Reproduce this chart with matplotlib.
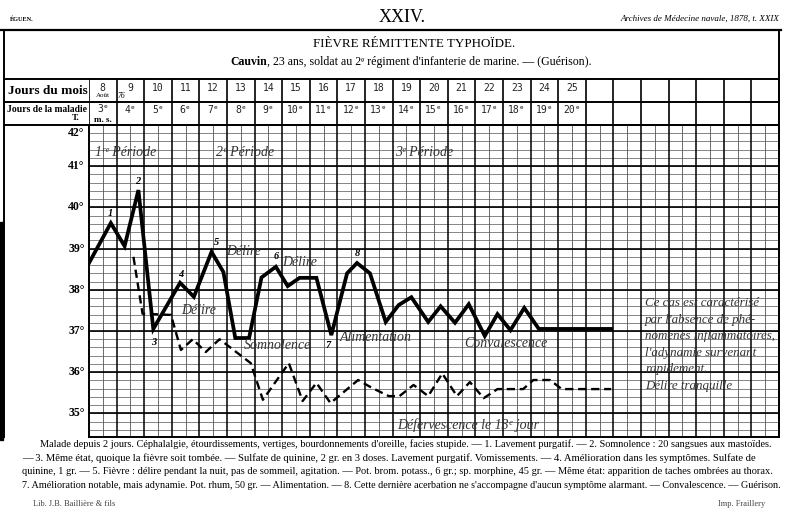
import numpy as np
import matplotlib
matplotlib.use("Agg")
import matplotlib.pyplot as plt
from matplotlib.patches import Rectangle

SERIF = ["Liberation Serif", "DejaVu Serif"]
MONO = ["DejaVu Sans Mono", "DejaVu Sans"]

# en-tete du tableau : jours du mois (aout 1876) et jours de la maladie
jours_mois = ["8", "9", "10", "11", "12", "13", "14", "15", "16", "17",
              "18", "19", "20", "21", "22", "23", "24", "25"]
jours_maladie = ["3ᵉ", "4ᵉ", "5ᵉ", "6ᵉ", "7ᵉ", "8ᵉ", "9ᵉ", "10ᵉ", "11ᵉ", "12ᵉ",
                 "13ᵉ", "14ᵉ", "15ᵉ", "16ᵉ", "17ᵉ", "18ᵉ", "19ᵉ", "20ᵉ"]
degres = [42, 41, 40, 39, 38, 37, 36, 35]

# courbe pleine (temperature), abscisse en jours depuis le 8 aout
temp_x = [0.0, 0.79, 1.29, 1.79, 2.33, 3.3, 3.8, 4.44, 4.87, 5.3, 5.8, 6.25,
          6.77, 7.2, 7.63, 8.24, 8.78, 9.35, 9.71, 10.18, 10.75, 11.22, 11.68,
          12.29, 12.74, 13.26, 13.76, 14.34, 14.8, 15.27, 15.77, 16.3, 18.92]
temp_y = [38.65, 39.62, 39.06, 40.42, 37.05, 38.17, 37.83, 38.92, 38.43, 36.83,
          36.83, 38.3, 38.56, 38.09, 38.29, 38.29, 36.9, 38.4, 38.65, 38.4,
          37.22, 37.63, 37.82, 37.22, 37.6, 37.2, 37.65, 36.88, 37.41, 37.02,
          37.56, 37.05, 37.05]

# courbe pointillee
pointille_x = [1.61, 1.94, 2.97, 3.33, 3.76, 4.23, 4.73, 5.86, 6.3, 7.24, 7.74,
               8.24, 8.75, 9.75, 10.25, 10.86, 11.25, 11.76, 12.29, 12.8, 13.33,
               13.8, 14.3, 14.8, 15.73, 16.1, 16.7, 17.13, 18.92]
pointille_y = [38.8, 37.42, 37.39, 36.54, 36.8, 36.49, 36.8, 36.22, 35.33, 36.22,
               35.3, 35.74, 35.25, 35.81, 35.62, 35.42, 35.42, 35.69, 35.42,
               35.97, 35.42, 35.76, 35.37, 35.59, 35.59, 35.81, 35.81, 35.59,
               35.59]

# numeros des notes et mentions sur la courbe
numeros = ["1", "2", "3", "4", "5", "6", "7", "8"]
numeros_x = [0.79, 1.76, 2.33, 3.33, 4.62, 6.77, 8.67, 9.71]
numeros_y = [39.86, 40.64, 36.73, 38.36, 39.16, 38.8, 36.66, 38.87]

mentions = ["1ʳᵉ Période", "2ᵉ Période", "3ᵉ Période", "Délire", "Délire", "Délire",
            "Somnolence", "Alimentation", "Convalescence", "Défervescence le 13ᵉ jour"]
mentions_x = [0.22, 4.6, 11.1, 4.98, 6.99, 3.33, 5.6, 9.1, 13.58, 11.15]
mentions_y = [41.34, 41.34, 41.34, 38.92, 38.67, 37.5, 36.66, 36.85, 36.7, 34.72]

note_droite = ["Ce cas est caractérisé", "par l'absence de phé-",
               "nomènes inflammatoires,", "l'adynamie survenant",
               "rapidement.", "Délire tranquille"]

legende = [
    "Malade depuis 2 jours. Céphalalgie, étourdissements, vertiges, bourdonnements d'oreille, facies stupide. — 1. Lavement purgatif. — 2. Somnolence : 20 sangsues aux mastoïdes.",
    "— 3. Même état, quoique la fièvre soit tombée. — Sulfate de quinine, 2 gr. en 3 doses. Lavement purgatif. Vomissements. — 4. Amélioration dans les symptômes. Sulfate de",
    "quinine, 1 gr. — 5. Fièvre : délire pendant la nuit, pas de sommeil, agitation. — Pot. brom. potass., 6 gr.; sp. morphine, 45 gr. — Même état: apparition de taches ombrées au thorax.",
    "7. Amélioration notable, mais adynamie. Pot. rhum, 50 gr. — Alimentation. — 8. Cette dernière acerbation ne s'accompagne d'aucun symptôme alarmant. — Convalescence. — Guérison.",
]


fig = plt.figure(figsize=(8, 5.13), dpi=100)
renderer = fig.canvas.get_renderer()

# page entiere en pixels
pg = fig.add_axes([0, 0, 1, 1])
pg.set_xlim(0, 800)
pg.set_ylim(513, 0)
pg.axis("off")


def texte_ajuste(x0, x1, y, s, taille, **kw):
    t = pg.text(x0, y, s, fontsize=taille, ha="left", va="center", **kw)
    for _ in range(3):
        w = t.get_window_extent(renderer).width
        t.set_fontsize(t.get_fontsize() * (x1 - x0) / w)
    return t


# haut de page
pg.text(10, 19, "ÉGUEN.", fontsize=4.5, fontweight="bold", family=SERIF, va="center")
pg.text(402, 18, "XXIV.", fontsize=13, family=SERIF, ha="center", va="center")
texte_ajuste(620, 778, 19, "Archives de Médecine navale, 1878, t. XXIX", 6,
             family=SERIF, style="italic")
texte_ajuste(313, 514, 44, "FIÈVRE RÉMITTENTE TYPHOÏDE.", 8, family=SERIF)
t = pg.text(230, 62, "Cauvin", fontsize=8.5, family=SERIF, fontweight="bold",
            ha="left", va="center")
x_fin = t.get_window_extent(renderer).x1
texte_ajuste(x_fin, 592, 62,
             ", 23 ans, soldat au 2ᵉ régiment d'infanterie de marine. — (Guérison).",
             8.5, family=SERIF)

# cadre
pg.plot([0, 781], [30, 30], color="black", lw=1.6)
pg.plot([4, 4], [30, 437], color="black", lw=1.4)
pg.plot([779, 779], [30, 437], color="black", lw=1.4)
for y in [79, 102, 125]:
    pg.plot([4, 779], [y, y], color="black", lw=1.4)
pg.add_patch(Rectangle((0, 222), 3, 218, color="black"))

texte_ajuste(8, 87, 91, "Jours du mois", 10, family=SERIF, fontweight="bold")
texte_ajuste(7, 87, 110, "Jours de la maladie", 8, family=SERIF, fontweight="bold")
pg.text(76, 118.5, "T.", fontsize=6.5, family=SERIF, fontweight="bold", ha="center", va="center")

# en-tete du tableau
hd = fig.add_axes([89 / 800, 1 - 125 / 513, 690 / 800, 46 / 513])
hd.set_xlim(0, 25)
hd.set_ylim(2, 0)
hd.axis("off")
for i in range(26):
    hd.axvline(i, color="black", lw=1.2)
for i, (jm, jl) in enumerate(zip(jours_mois, jours_maladie)):
    hd.text(i + 0.5, 0.38, jm, fontsize=7, family=MONO, ha="center", va="center", color="#222")
    yl = 1.3 if i == 0 else 1.35
    hd.text(i + 0.5, yl, jl, fontsize=7, family=MONO, ha="center", va="center", color="#222")
hd.text(0.5, 0.72, "Août", fontsize=5, family=SERIF, ha="center", va="center")
hd.text(1.05, 0.72, "76", fontsize=5.5, family=SERIF, ha="left", va="center", style="italic")
hd.text(0.5, 1.78, "m. s.", fontsize=6.5, family=SERIF, fontweight="bold", ha="center", va="center")

# feuille de temperature
ax = fig.add_axes([89 / 800, 1 - 437 / 513, 690 / 800, 312 / 513])
ax.set_xlim(0, 25)
ax.set_ylim(34.427, 42)
ax.set_facecolor("none")
for s in ax.spines.values():
    s.set_linewidth(1.4)
ax.set_xticks([])
ax.set_yticks([])

for i in range(25):
    ax.axvline(i + 0.5, color="#444", lw=0.55, zorder=1)
for v in np.arange(34.6, 42, 0.2):
    ax.axhline(v, color="#555", lw=0.5, zorder=1)
for i in range(1, 25):
    ax.axvline(i, color="black", lw=1.1, zorder=1)
for v in degres[1:]:
    ax.axhline(v, color="black", lw=1.2, zorder=1)

ax.plot(temp_x, temp_y, color="black", lw=2.7, solid_joinstyle="miter", zorder=3)
ax.plot(pointille_x, pointille_y, color="black", lw=1.7, dashes=(3.5, 2), zorder=3)

for d in degres:
    yv = 41.8 if d == 42 else d
    ax.text(-0.16, yv, f"{d}°", fontsize=8.5, family=SERIF, fontweight="bold",
            ha="right", va="center", clip_on=False)

for n, x, y in zip(numeros, numeros_x, numeros_y):
    ax.text(x, y, n, fontsize=7.5, family=SERIF, style="italic", fontweight="bold",
            ha="center", va="center", zorder=4)
for m, x, y in zip(mentions, mentions_x, mentions_y):
    ax.text(x, y, m, fontsize=10, family=SERIF, style="italic", ha="left",
            va="center", color="#333", zorder=4)
for k, ligne in enumerate(note_droite):
    ax.text(20.15, 37.68 - 0.403 * k, ligne, fontsize=9.4, family=SERIF,
            style="italic", ha="left", va="center", color="#333", zorder=4)

# legende en bas
texte_ajuste(40, 772, 444, legende[0], 6.5, family=SERIF)
for k, ligne in enumerate(legende[1:]):
    texte_ajuste(22, 772, 458 + 13.5 * k, ligne, 6.5, family=SERIF)

pg.text(33, 504, "Lib. J.B. Baillière & fils", fontsize=6, family=SERIF, va="center", color="#444")
pg.text(765, 504, "Imp. Fraillery", fontsize=6, family=SERIF, va="center", ha="right", color="#444")

fig.savefig("out.png", dpi=100)
